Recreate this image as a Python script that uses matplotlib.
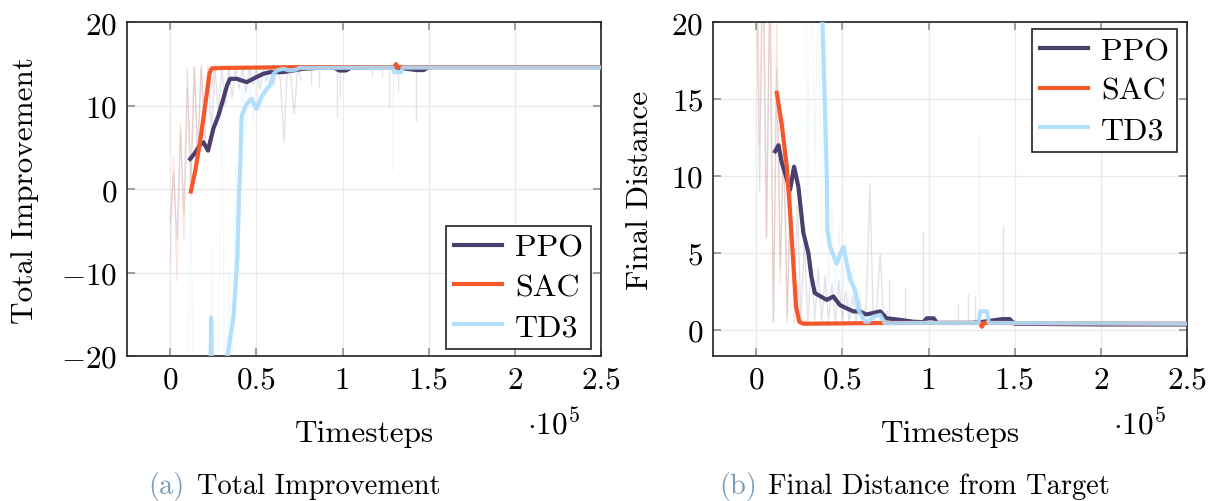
import numpy as np
import matplotlib
matplotlib.use("Agg")
import matplotlib.pyplot as plt

plt.rcParams["font.family"] = ["cmr10"]
plt.rcParams["mathtext.fontset"] = "cm"
plt.rcParams["axes.formatter.use_mathtext"] = True

# timesteps in units of 1e5
labels = ["PPO", "SAC", "TD3"]
colors = ["#4b3f6e", "#f4572a", "#aadcfc"]

# ---- smoothed curves: Total Improvement ----
imp_ppo_x = [0.116, 0.14, 0.174, 0.193, 0.22, 0.25, 0.28, 0.30, 0.33, 0.347, 0.386,
             0.444, 0.50, 0.54, 0.58, 0.656, 0.714, 0.77, 0.85, 0.95, 0.98, 1.02,
             1.05, 1.2, 1.25, 1.28, 1.3, 1.43, 1.47, 1.5, 2.0, 2.5]
imp_ppo_y = [3.6, 4.2, 5.3, 5.6, 4.6, 7.2, 8.8, 10.2, 12.4, 13.2, 13.2,
             12.8, 13.4, 13.8, 14.0, 14.0, 14.2, 14.4, 14.5, 14.55, 14.2, 14.2,
             14.55, 14.6, 14.6, 14.6, 14.6, 14.25, 14.25, 14.6, 14.6, 14.6]
imp_sac_x = [0.12, 0.145, 0.174, 0.203, 0.228, 0.241, 0.3, 0.5, 0.75, 1.30, 1.31, 1.32, 2.5]
imp_sac_y = [-0.3, 2.1, 5.7, 10.0, 13.8, 14.45, 14.5, 14.55, 14.6, 14.6, 14.95, 14.6, 14.6]
imp_td3_x = [0.12, 0.16, 0.20, 0.232, 0.238, 0.244, 0.28, 0.332, 0.367, 0.39, 0.40,
             0.405, 0.415, 0.444, 0.473, 0.50, 0.53, 0.56, 0.58, 0.60, 0.62, 0.656,
             0.69, 0.73, 0.75, 1.29, 1.30, 1.34, 1.35, 2.5]
imp_td3_y = [-34, -31, -28, -25, -15.4, -25, -30, -20, -15.4, -8.3, -0.3,
             1.7, 8.8, 10.2, 10.8, 9.6, 11.0, 12.0, 12.4, 13.8, 14.2, 14.4,
             14.2, 14.3, 14.5, 14.55, 14.0, 14.0, 14.55, 14.55]

# ---- smoothed curves: Final Distance ----
dist_ppo_x = [0.11, 0.13, 0.148, 0.197, 0.22, 0.245, 0.274, 0.303, 0.32, 0.34, 0.37,
              0.41, 0.448, 0.487, 0.525, 0.564, 0.60, 0.64, 0.68, 0.72, 0.757, 0.815,
              0.91, 0.97, 0.99, 1.03, 1.05, 1.25, 1.3, 1.43, 1.47, 1.5, 2.0, 2.5]
dist_ppo_y = [11.6, 12.0, 10.9, 9.1, 10.6, 9.3, 6.3, 5.0, 3.5, 2.4, 2.2,
              1.95, 2.17, 1.6, 1.4, 1.2, 1.2, 1.0, 1.1, 1.2, 0.75, 0.68,
              0.53, 0.5, 0.75, 0.75, 0.45, 0.45, 0.5, 0.7, 0.7, 0.4, 0.35, 0.35]
dist_sac_x = [0.12, 0.149, 0.178, 0.197, 0.216, 0.232, 0.25, 0.274, 0.5, 0.75, 1.30, 1.31, 1.32, 2.5]
dist_sac_y = [15.4, 13.3, 10.6, 7.6, 4.3, 1.5, 0.53, 0.4, 0.42, 0.45, 0.45, 0.2, 0.45, 0.4]
dist_td3_x = [0.12, 0.2, 0.3, 0.385, 0.41, 0.413, 0.429, 0.467, 0.506, 0.545, 0.573,
              0.593, 0.632, 0.65, 0.68, 0.72, 0.747, 1.0, 1.29, 1.30, 1.34, 1.35, 2.5]
dist_td3_y = [34, 31, 27, 20, 10, 6.5, 5.4, 4.3, 5.4, 3.3, 2.6,
              1.3, 0.53, 0.53, 0.86, 0.97, 0.43, 0.45, 0.45, 1.2, 1.2, 0.45, 0.4]

# ---- raw (unsmoothed) evaluations, early phase ----
raw_x = [0.00, 0.02, 0.04, 0.06, 0.08, 0.10, 0.12, 0.14, 0.16, 0.18, 0.20, 0.22, 0.24,
         0.26, 0.28, 0.30, 0.32, 0.34, 0.36, 0.38, 0.40, 0.42, 0.44, 0.46, 0.48, 0.50,
         0.52, 0.54, 0.56, 0.58, 0.60, 0.62, 0.64, 0.66, 0.68, 0.70, 0.72, 0.74, 0.76]
raw_imp_ppo = [-4, 2, -6, 7, -3, 14.5, 1, 14.6, 3, 14.5, 5, 14.4, 7,
               14.6, 9, 14.5, 10, 14.6, 11, 14.5, 12, 14.6, 11.5, 14.6, 12.5, 14.5,
               12, 14.6, 13, 14.5, 12.5, 14.6, 13, 5.6, 14.5, 13.5, 9, 14.5, 13]
raw_imp_sac = [-9, 4, -11, 8, -6, 12, -1, 14.7, 5, 15, 9, 14.8, 12,
               14.9, 14.4, 14.7, 14.5, 14.8, 14.5, 14.7, 14.6, 14.6, 14.7, 14.5, 14.6, 14.6,
               14.7, 14.6, 14.5, 14.6, 14.6, 14.7, 14.6, 14.6, 14.5, 14.6, 14.6, 14.6, 14.6]
raw_imp_td3 = [-45, -30, -50, -35, -40, -25, 0, -35, -30, -45, -28, -40, -7,
               -35, -22, 12, -30, -10, -25, 3, -2, 14.5, 6, 14.6, 8, 14.5,
               9, 14.6, 11, 14.6, 12, 14.6, 13.5, 14.6, 14, 14.6, 14.2, 14.6, 14.5]
raw_dist_ppo = [26, 9, 24, 6, 22, 0.5, 17, 4, 12, 0.5, 10, 2, 8,
                0.6, 6, 0.5, 4.5, 0.6, 4, 0.5, 3.5, 0.6, 3, 0.5, 3.2, 0.6,
                2.5, 0.5, 2.2, 0.6, 2, 0.5, 1.8, 9.5, 0.5, 1.5, 4.9, 0.5, 1.2]
raw_dist_sac = [30, 12, 28, 6, 25, 0.5, 20, 3, 14, 1, 9, 0.4, 3,
                0.3, 0.6, 0.4, 0.5, 0.4, 0.5, 0.4, 0.45, 0.5, 0.4, 0.45, 0.5, 0.4,
                0.45, 0.4, 0.5, 0.45, 0.4, 0.45, 0.5, 0.4, 0.45, 0.4, 0.45, 0.4, 0.45]
raw_dist_td3 = [40, 30, 45, 25, 38, 20, 35, 28, 42, 30, 36, 25, 40,
                22, 30, 8, 28, 10, 24, 6, 18, 2, 8, 1.5, 7, 0.8,
                6, 0.6, 4, 0.5, 2.5, 0.5, 1.5, 0.4, 1.2, 0.5, 0.8, 0.4, 0.5]

# ---- raw outliers later in training (single evaluations) ----
spk_imp_ppo_x = [0.82, 0.863, 0.966, 0.985, 1.17, 1.23, 1.27, 1.32, 1.425]
spk_imp_ppo_y = [12.5, 12.2, 8.6, 11.0, 13.4, 13.4, 9.8, 11.6, 8.2]
spk_imp_td3_x = [1.29]
spk_imp_td3_y = [2.3]
spk_dist_ppo_x = [0.77, 0.863, 0.966, 1.17, 1.23, 1.27, 1.43]
spk_dist_ppo_y = [3.3, 2.7, 6.4, 1.7, 2.4, 2.2, 6.8]
spk_dist_td3_x = [1.294]
spk_dist_td3_y = [12.8]

FS = 22.5

fig = plt.figure(figsize=(12.17, 5.02), dpi=100)
ax1 = fig.add_axes([0.1044, 0.2888, 0.3895, 0.6653])
ax2 = fig.add_axes([0.5859, 0.2888, 0.3895, 0.6653])


def style(ax, ylim, yticks):
    ax.set_xlim(-0.25, 2.5)
    ax.set_ylim(*ylim)
    ax.set_xticks([0, 0.5, 1, 1.5, 2, 2.5])
    ax.set_xticklabels(["0", "0.5", "1", "1.5", "2", "2.5"])
    ax.set_yticks(yticks)
    ax.grid(True, color="#ebebeb", lw=1.0, zorder=0)
    ax.set_axisbelow(True)
    ax.tick_params(direction="in", length=6, width=1.2, color="#909090",
                   top=True, right=True, labelsize=FS, pad=7)
    for s in ax.spines.values():
        s.set_linewidth(1.2)
        s.set_color("#222222")
    ax.set_xlabel("Timesteps", fontsize=FS)
    ax.xaxis.set_label_coords(0.5, -0.19)
    ax.text(0.9, -0.2, r"$\cdot 10^5$", transform=ax.transAxes, fontsize=FS,
            ha="center", va="center")


def add_legend(ax, loc, anchor):
    leg = ax.legend(loc=loc, bbox_to_anchor=anchor, fontsize=23,
                    fancybox=False, edgecolor="#222222", framealpha=1,
                    handlelength=1.5, borderpad=0.25, labelspacing=0.35,
                    handletextpad=0.4, borderaxespad=0)
    leg.get_frame().set_linewidth(1.2)


# Total Improvement
raw_imp = [raw_imp_ppo, raw_imp_sac, raw_imp_td3]
for vals, c in zip(raw_imp, colors):
    ax1.plot(raw_x, vals, color=c, lw=1, alpha=0.15, zorder=1)
ax1.vlines(spk_imp_ppo_x, spk_imp_ppo_y, 14.5, color=colors[0], lw=1, alpha=0.15)
ax1.vlines(spk_imp_td3_x, spk_imp_td3_y, 14.5, color=colors[2], lw=1, alpha=0.25)
ax1.plot(imp_ppo_x, imp_ppo_y, color=colors[0], lw=3, label=labels[0], zorder=3)
ax1.plot(imp_sac_x, imp_sac_y, color=colors[1], lw=3, label=labels[1], zorder=3)
ax1.plot(imp_td3_x, imp_td3_y, color=colors[2], lw=3, alpha=0.9, label=labels[2], zorder=3)
style(ax1, (-20, 20), [-20, -10, 0, 10, 20])
ax1.set_ylabel("Total Improvement", fontsize=FS)
ax1.yaxis.set_label_coords(-0.185, 0.5)
add_legend(ax1, "lower right", (0.979, 0.021))

# Final Distance
raw_dist = [raw_dist_ppo, raw_dist_sac, raw_dist_td3]
for vals, c in zip(raw_dist, colors):
    ax2.plot(raw_x, vals, color=c, lw=1, alpha=0.15, zorder=1)
ax2.vlines(spk_dist_ppo_x, 0.4, spk_dist_ppo_y, color=colors[0], lw=1, alpha=0.15)
ax2.vlines(spk_dist_td3_x, 0.4, spk_dist_td3_y, color=colors[2], lw=1, alpha=0.25)
ax2.plot(dist_ppo_x, dist_ppo_y, color=colors[0], lw=3, label=labels[0], zorder=3)
ax2.plot(dist_sac_x, dist_sac_y, color=colors[1], lw=3, label=labels[1], zorder=3)
ax2.plot(dist_td3_x, dist_td3_y, color=colors[2], lw=3, alpha=0.9, label=labels[2], zorder=3)
style(ax2, (-1.7, 20), [0, 5, 10, 15, 20])
ax2.set_ylabel("Final Distance", fontsize=FS)
ax2.yaxis.set_label_coords(-0.125, 0.5)
add_legend(ax2, "upper right", (0.979, 0.979))

# sub-captions
cap_color = "#7c9bb6"
fig.text(0.122, 0.03, "(a)", color=cap_color, fontsize=20.5, va="center")
fig.text(0.162, 0.03, "Total Improvement", fontsize=20.5, va="center")
fig.text(0.591, 0.03, "(b)", color=cap_color, fontsize=20.5, va="center")
fig.text(0.631, 0.03, "Final Distance from Target", fontsize=20.5, va="center")

fig.savefig("out.png", dpi=100)
